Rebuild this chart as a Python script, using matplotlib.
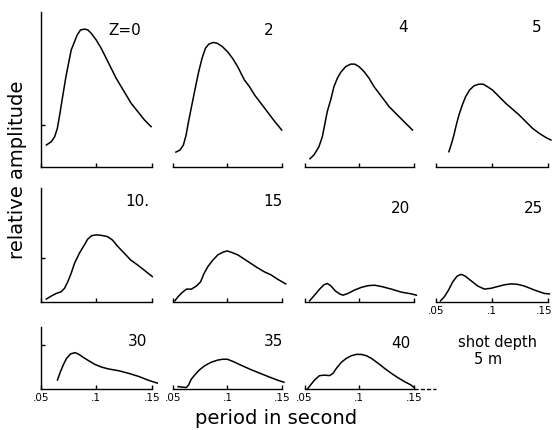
import numpy as np
import matplotlib
matplotlib.use('Agg')
import matplotlib.pyplot as plt
from matplotlib.transforms import ScaledTranslation

# shot depth labels for the 11 panels
DEPTH_LABELS = ['Z=0', '2', '4', '5', '10.', '15', '20', '25', '30', '35', '40']

# curves (period in s, relative amplitude)
PERIOD_Z0 = [0.0551, 0.0596, 0.0626, 0.0650, 0.0671, 0.0700, 0.0730, 0.0760, 0.0775, 0.0799,
             0.0829, 0.0859, 0.0895, 0.0925, 0.0955, 0.1000, 0.1045, 0.1090, 0.1135, 0.1180,
             0.1225, 0.1270, 0.1315, 0.1375, 0.1435, 0.1495]
AMP_Z0 = [0.52, 0.60, 0.72, 0.92, 1.24, 1.72, 2.20, 2.60, 2.80, 2.96,
          3.16, 3.28, 3.30, 3.28, 3.20, 3.04, 2.84, 2.60, 2.36, 2.12,
          1.92, 1.72, 1.52, 1.32, 1.12, 0.96]

PERIOD_Z2 = [0.0525, 0.0563, 0.0594, 0.0619, 0.0641, 0.0672, 0.0703, 0.0735, 0.0766, 0.0797,
             0.0828, 0.0869, 0.0906, 0.0953, 0.1000, 0.1047, 0.1094, 0.1125, 0.1156, 0.1203,
             0.1250, 0.1297, 0.1344, 0.1390, 0.1437, 0.1500]
AMP_Z2 = [0.35, 0.40, 0.52, 0.76, 1.08, 1.48, 1.88, 2.28, 2.60, 2.84,
          2.94, 2.98, 2.96, 2.88, 2.76, 2.60, 2.40, 2.24, 2.08, 1.92,
          1.72, 1.56, 1.40, 1.24, 1.08, 0.88]

PERIOD_Z4 = [0.0549, 0.0585, 0.0631, 0.0662, 0.0683, 0.0707, 0.0738, 0.0768, 0.0799, 0.0829,
             0.0875, 0.0921, 0.0958, 0.0997, 0.1043, 0.1089, 0.1134, 0.1180, 0.1226, 0.1272,
             0.1317, 0.1378, 0.1439, 0.1485]
AMP_Z4 = [0.19, 0.28, 0.48, 0.72, 1.00, 1.32, 1.60, 1.92, 2.12, 2.26,
          2.40, 2.46, 2.46, 2.40, 2.28, 2.12, 1.92, 1.76, 1.60, 1.44,
          1.32, 1.16, 1.00, 0.88]

PERIOD_Z5 = [0.0614, 0.0638, 0.0659, 0.0680, 0.0704, 0.0734, 0.0764, 0.0800, 0.0839, 0.0884,
             0.0920, 0.0959, 0.1004, 0.1064, 0.1124, 0.1184, 0.1244, 0.1304, 0.1364, 0.1424,
             0.1484, 0.1529]
AMP_Z5 = [0.36, 0.56, 0.76, 1.00, 1.24, 1.48, 1.68, 1.84, 1.94, 1.98,
          1.98, 1.92, 1.84, 1.68, 1.52, 1.38, 1.24, 1.08, 0.92, 0.80,
          0.70, 0.64]

PERIOD_Z10 = [0.0550, 0.0595, 0.0640, 0.0685, 0.0715, 0.0744, 0.0774, 0.0804, 0.0849, 0.0894,
              0.0923, 0.0959, 0.0998, 0.1043, 0.1102, 0.1147, 0.1192, 0.1252, 0.1311, 0.1371,
              0.1431, 0.1505]
AMP_Z10 = [0.06, 0.13, 0.19, 0.23, 0.31, 0.46, 0.65, 0.88, 1.12, 1.31,
           1.44, 1.52, 1.54, 1.53, 1.50, 1.42, 1.28, 1.12, 0.96, 0.85,
           0.73, 0.58]

PERIOD_Z15 = [0.0515, 0.0546, 0.0582, 0.0622, 0.0668, 0.0713, 0.0753, 0.0784, 0.0820, 0.0866,
              0.0912, 0.0958, 0.0997, 0.1034, 0.1095, 0.1156, 0.1217, 0.1278, 0.1339, 0.1400,
              0.1461, 0.1537]
AMP_Z15 = [0.02, 0.12, 0.21, 0.29, 0.29, 0.36, 0.46, 0.65, 0.81, 0.96,
           1.08, 1.14, 1.17, 1.14, 1.08, 0.98, 0.88, 0.78, 0.69, 0.62,
           0.52, 0.41]

PERIOD_Z20 = [0.0545, 0.0591, 0.0637, 0.0677, 0.0707, 0.0738, 0.0780, 0.0820, 0.0850, 0.0896,
              0.0957, 0.1018, 0.1079, 0.1140, 0.1201, 0.1293, 0.1384, 0.1476, 0.1521]
AMP_Z20 = [0.02, 0.15, 0.29, 0.39, 0.42, 0.37, 0.25, 0.18, 0.15, 0.19,
           0.27, 0.33, 0.37, 0.38, 0.35, 0.29, 0.22, 0.18, 0.15]

PERIOD_Z25 = [0.0539, 0.0575, 0.0611, 0.0649, 0.0688, 0.0724, 0.0760, 0.0814, 0.0873, 0.0933,
              0.0993, 0.1052, 0.1112, 0.1172, 0.1231, 0.1291, 0.1380, 0.1470, 0.1515]
AMP_Z25 = [0.02, 0.12, 0.27, 0.46, 0.59, 0.63, 0.59, 0.48, 0.36, 0.29,
           0.31, 0.35, 0.39, 0.41, 0.40, 0.36, 0.27, 0.19, 0.18]

PERIOD_Z30 = [0.0651, 0.0672, 0.0703, 0.0733, 0.0769, 0.0809, 0.0839, 0.0885, 0.0930, 0.0991,
              0.1051, 0.1112, 0.1203, 0.1294, 0.1384, 0.1475, 0.1551]
AMP_Z30 = [0.21, 0.36, 0.55, 0.70, 0.80, 0.83, 0.80, 0.72, 0.65, 0.56,
           0.50, 0.46, 0.42, 0.36, 0.29, 0.20, 0.14]

PERIOD_Z35 = [0.0545, 0.0621, 0.0642, 0.0667, 0.0697, 0.0742, 0.0788, 0.0848, 0.0909, 0.0955,
              0.1000, 0.1061, 0.1121, 0.1212, 0.1303, 0.1394, 0.1470, 0.1521]
AMP_Z35 = [0.06, 0.04, 0.10, 0.23, 0.32, 0.44, 0.53, 0.61, 0.66, 0.68,
           0.68, 0.62, 0.55, 0.45, 0.36, 0.27, 0.20, 0.16]

PERIOD_Z40 = [0.0524, 0.0555, 0.0591, 0.0637, 0.0683, 0.0728, 0.0759, 0.0789, 0.0835, 0.0881,
              0.0927, 0.0972, 0.1018, 0.1064, 0.1110, 0.1171, 0.1232, 0.1293, 0.1354, 0.1415,
              0.1470, 0.1500]
AMP_Z40 = [0.00, 0.10, 0.21, 0.31, 0.32, 0.31, 0.36, 0.47, 0.61, 0.70,
           0.76, 0.79, 0.79, 0.76, 0.70, 0.59, 0.47, 0.36, 0.26, 0.17,
           0.10, 0.04]

CURVES = [(PERIOD_Z0, AMP_Z0), (PERIOD_Z2, AMP_Z2), (PERIOD_Z4, AMP_Z4), (PERIOD_Z5, AMP_Z5),
          (PERIOD_Z10, AMP_Z10), (PERIOD_Z15, AMP_Z15), (PERIOD_Z20, AMP_Z20), (PERIOD_Z25, AMP_Z25),
          (PERIOD_Z30, AMP_Z30), (PERIOD_Z35, AMP_Z35), (PERIOD_Z40, AMP_Z40)]

X_TICKS = [0.05, 0.1, 0.15]
X_TICK_LABELS = ['.05', '.1', '.15']

W, H = 553, 430
plt.rcParams['font.family'] = 'DejaVu Sans'
fig = plt.figure(figsize=(W / 100, H / 100), dpi=100)

# pixel layout of the scan: (top, baseline, ymax) per row, (left, width) per column
ROWS = [(12, 166.7, 3.71), (188, 301.7, 2.62), (327, 389.3, 1.41)]
COLS = [(40.7, 111), (173.2, 108.5), (304.6, 109.5), (436.2, 111.5)]

# label positions in axes fraction
LABEL_POS = [(0.76, 0.88), (0.88, 0.88), (0.90, 0.90), (0.90, 0.90),
             (0.875, 0.88), (0.92, 0.88), (0.875, 0.82), (0.87, 0.82),
             (0.875, 0.76), (0.92, 0.76), (0.88, 0.74)]

for k, (px, amp) in enumerate(CURVES):
    r, c = divmod(k, 4)
    top, bot, ymax = ROWS[r]
    left, pw = COLS[c]
    ax = fig.add_axes([left / W, 1 - bot / H, pw / W, (bot - top) / H])
    ax.plot(px, amp, color='black', lw=1.1, solid_joinstyle='round', clip_on=False)
    ax.set_xlim(0.05, 0.15)
    ax.set_ylim(0, ymax)
    ax.patch.set_alpha(0)
    for s in ['top', 'right']:
        ax.spines[s].set_visible(False)
    ax.spines['bottom'].set_linewidth(1.0)
    ax.set_xticks(X_TICKS)
    ax.tick_params(axis='x', direction='in', length=3, width=1.0, pad=3, labelsize=7.5)
    if (r == 2) or (r == 1 and c == 3):
        ax.set_xticklabels(X_TICK_LABELS)
        if c == 3:
            lbl = ax.get_xticklabels()[-1]
            lbl.set_horizontalalignment('right')
            lbl.set_transform(lbl.get_transform() + ScaledTranslation(0.05, 0, fig.dpi_scale_trans))
    else:
        ax.set_xticklabels([])
    if r == 2 and c == 2:
        # base line runs on a bit past .15 in the scan
        ax.axhline(0, xmin=1.0, xmax=1.2, color='black', lw=1.0, ls=(0, (3, 1.5)), clip_on=False)
    if c == 0:
        ax.spines['left'].set_linewidth(1.0)
        ax.set_yticks([1])
        ax.set_yticklabels([])
        ax.tick_params(axis='y', direction='in', length=3, width=1.0)
    else:
        ax.spines['left'].set_visible(False)
        ax.set_yticks([])
    lx, ly = LABEL_POS[k]
    ax.text(lx, ly, DEPTH_LABELS[k], transform=ax.transAxes, ha='center', va='center',
            fontsize=11)

fig.text(497 / W, 1 - 342 / H, 'shot depth', ha='center', va='center', fontsize=10.5)
fig.text(488 / W, 1 - 360 / H, '5 m', ha='center', va='center', fontsize=10.5)
fig.text(18 / W, 1 - 170 / H, 'relative amplitude', rotation=90, ha='center', va='center',
         fontsize=14)
fig.text(276 / W, 1 - 418 / H, 'period in second', ha='center', va='center', fontsize=14)

fig.savefig('out.png', dpi=100)
